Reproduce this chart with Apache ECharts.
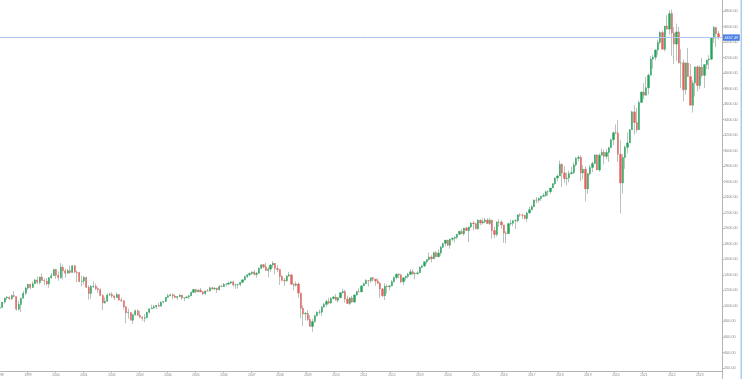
<!DOCTYPE html>
<html><head><meta charset="utf-8">
<script src="https://cdn.jsdelivr.net/npm/echarts/dist/echarts.min.js"></script>
<style>html,body{margin:0;padding:0;background:#fff;}#c{width:743px;height:379px;}</style>
</head><body><div id="c"></div>
<script>
// Monthly OHLC, Jan 1998 .. Sep 2023 (one row per year)
const opens = [
970.4,980.3,1049.3,1101.8,1111.8,1090.8,1133.8,1120.7,957.3,1017.0,1098.7,1163.6,
1229.2,1279.6,1238.3,1286.4,1335.2,1301.8,1372.7,1328.7,1320.4,1282.7,1362.9,1388.9,
1469.3,1394.5,1366.4,1498.6,1452.4,1420.6,1454.6,1430.8,1517.7,1436.5,1429.4,1315.0,
1320.3,1366.0,1239.9,1160.3,1249.5,1255.8,1224.4,1211.2,1133.6,1040.9,1059.8,1139.5,
1148.1,1130.2,1106.7,1147.4,1076.9,1067.1,989.8,911.6,916.1,815.3,885.8,936.3,
879.8,855.7,841.2,848.2,916.9,963.6,974.5,990.3,1008.0,996.0,1050.7,1058.2,
1111.9,1131.1,1144.9,1126.2,1107.3,1120.7,1140.8,1101.7,1104.2,1114.6,1130.2,1173.8,
1211.9,1181.3,1203.6,1180.6,1156.9,1191.5,1191.3,1234.2,1220.3,1228.8,1207.0,1249.5,
1248.3,1280.1,1280.7,1294.8,1310.6,1270.1,1270.2,1276.7,1303.8,1335.9,1377.9,1400.6,
1418.3,1438.2,1406.8,1420.9,1482.4,1530.6,1503.4,1455.3,1474.0,1526.8,1549.4,1481.1,
1468.4,1378.6,1330.6,1322.7,1385.6,1400.4,1280.0,1267.4,1282.8,1166.4,968.8,896.2,
903.3,825.9,735.1,797.9,872.8,919.1,919.3,987.5,1020.6,1057.1,1036.2,1095.6,
1115.1,1073.9,1104.5,1169.4,1186.7,1089.4,1030.7,1101.6,1049.3,1141.2,1183.3,1180.6,
1257.6,1286.1,1327.2,1325.8,1363.6,1345.2,1320.6,1292.3,1218.9,1131.4,1253.3,1247.0,
1257.6,1312.4,1365.7,1408.5,1397.9,1310.3,1362.2,1379.3,1406.6,1440.7,1412.2,1416.2,
1426.2,1498.1,1514.7,1569.2,1597.6,1630.7,1606.3,1685.7,1633.0,1681.6,1756.5,1805.8,
1848.4,1782.6,1859.5,1872.3,1884.0,1923.6,1960.2,1930.7,2003.4,1972.3,2018.1,2067.6,
2058.9,1995.0,2104.5,2067.9,2085.5,2107.4,2063.1,2103.8,1972.2,1920.0,2079.4,2080.4,
2043.9,1940.2,1932.2,2059.7,2065.3,2097.0,2098.9,2173.6,2171.0,2168.3,2126.2,2198.8,
2238.8,2278.9,2363.6,2362.7,2384.2,2411.8,2423.4,2470.3,2471.7,2519.4,2575.3,2647.6,
2673.6,2823.8,2713.8,2640.9,2648.1,2705.3,2718.4,2816.3,2901.5,2914.0,2711.7,2760.2,
2506.9,2704.1,2784.5,2834.4,2945.8,2752.1,2941.8,2980.4,2926.5,2976.7,3037.6,3141.0,
3230.8,3225.5,2954.2,2584.6,2912.4,3044.3,3100.3,3271.1,3500.3,3363.0,3270.0,3621.6,
3756.1,3714.2,3811.2,3972.9,4181.2,4204.1,4297.5,4395.3,4522.7,4307.5,4605.4,4567.0,
4766.2,4515.6,4373.9,4530.4,4131.9,4132.2,3785.4,4130.3,3955.0,3585.6,3872.0,4080.1,
3839.5,4076.6,3970.2,4109.3,4169.5,4179.8,4450.4,4589.0,4507.7
];
const highs = [
992.7,1050.0,1105.7,1130.5,1123.0,1145.2,1190.6,1121.0,1066.1,1106.7,1193.2,1244.9,
1280.0,1283.7,1316.6,1347.8,1375.9,1376.8,1420.3,1352.0,1361.7,1373.2,1424.7,1473.1,
1478.0,1444.6,1552.9,1527.2,1481.5,1474.6,1517.3,1525.2,1530.1,1454.8,1438.5,1389.1,
1383.4,1376.4,1263.5,1269.3,1315.9,1286.6,1239.8,1226.3,1155.4,1110.6,1163.4,1173.0,
1176.6,1130.2,1173.0,1147.8,1106.6,1070.0,994.5,965.0,924.0,900.9,954.3,954.3,
935.1,864.6,895.9,924.2,965.4,1015.3,1015.4,1011.0,1040.3,1053.8,1063.7,1112.6,
1155.4,1158.9,1163.2,1150.6,1127.7,1146.3,1140.8,1109.7,1131.5,1142.1,1188.5,1217.3,
1217.8,1212.4,1229.1,1191.9,1199.6,1219.6,1245.2,1245.9,1243.1,1233.3,1270.6,1275.8,
1294.9,1297.6,1310.9,1318.2,1326.7,1290.7,1280.4,1306.7,1340.3,1389.5,1407.9,1431.8,
1441.6,1461.6,1438.9,1498.0,1535.6,1540.6,1555.9,1503.9,1538.7,1576.1,1552.8,1523.6,
1471.8,1396.0,1359.7,1396.0,1440.2,1404.1,1292.2,1313.2,1303.0,1167.0,1007.5,918.9,
943.9,877.9,833.0,888.7,930.2,956.2,996.7,1039.5,1080.2,1101.4,1113.7,1130.4,
1150.5,1112.4,1180.2,1219.8,1205.1,1131.2,1115.0,1129.2,1148.9,1196.1,1227.1,1262.6,
1302.7,1344.1,1332.3,1364.6,1370.6,1345.2,1356.5,1307.4,1229.3,1292.7,1277.6,1269.4,
1333.5,1378.0,1419.2,1422.4,1415.3,1363.5,1392.0,1426.7,1474.5,1470.0,1434.3,1448.0,
1509.9,1530.9,1570.3,1597.6,1687.2,1654.2,1698.8,1709.7,1729.9,1775.2,1813.6,1849.4,
1850.8,1867.9,1883.0,1897.3,1924.0,1968.2,1991.4,2005.0,2019.3,2018.2,2075.8,2093.6,
2072.4,2119.6,2114.8,2125.9,2134.7,2129.9,2132.8,2112.7,2020.9,2094.3,2116.5,2104.3,
2043.9,1962.7,2072.2,2111.1,2103.5,2120.6,2177.1,2193.8,2187.9,2169.6,2214.1,2277.5,
2300.9,2371.5,2401.0,2398.2,2418.7,2453.8,2484.0,2490.9,2519.4,2582.0,2657.7,2695.0,
2872.9,2836.0,2801.9,2717.5,2742.2,2791.5,2848.0,2916.5,2940.9,2939.9,2815.2,2800.2,
2709.0,2813.5,2860.3,2949.5,2954.1,2964.2,3028.0,3013.6,3022.0,3050.1,3154.3,3247.9,
3337.8,3393.5,3136.7,2954.9,3068.7,3233.1,3280.0,3514.8,3588.1,3549.9,3646.0,3760.2,
3870.9,3950.4,3994.4,4218.8,4238.0,4302.4,4430.0,4537.4,4545.9,4608.1,4743.8,4808.9,
4818.6,4595.3,4637.3,4593.5,4307.7,4177.5,4140.2,4325.3,4119.3,3905.4,4080.1,4101.0,
4094.2,4195.4,4110.8,4170.1,4231.1,4458.5,4607.1,4593.0,4541.3
];
const lows = [
912.8,980.3,1032.1,1076.7,1074.4,1074.6,1114.3,939.9,939.9,923.3,1098.7,1136.9,
1205.5,1211.9,1234.7,1282.7,1281.4,1277.2,1328.5,1268.4,1263.0,1233.7,1348.4,1387.4,
1350.1,1325.1,1346.6,1339.4,1361.1,1420.6,1413.9,1429.4,1419.4,1305.8,1305.8,1254.1,
1274.6,1228.3,1081.2,1091.9,1232.0,1203.0,1165.5,1124.9,944.8,1026.8,1054.3,1124.7,
1101.2,1074.4,1106.7,1063.5,1048.9,952.9,775.7,833.4,815.3,768.6,872.0,872.0,
840.3,806.3,788.9,847.9,902.8,963.6,962.1,960.8,990.4,996.0,1031.2,1053.4,
1105.1,1124.4,1087.2,1107.2,1076.3,1113.3,1078.8,1060.7,1101.3,1090.2,1127.6,1173.8,
1163.8,1180.1,1176.9,1137.5,1146.2,1188.3,1191.3,1201.1,1205.4,1168.2,1201.1,1246.6,
1245.7,1253.6,1268.4,1280.7,1245.3,1219.3,1224.5,1253.9,1290.9,1327.1,1360.4,1385.9,
1403.6,1389.4,1363.9,1416.4,1476.7,1484.2,1454.3,1370.6,1439.3,1489.6,1406.1,1435.7,
1270.1,1316.8,1256.9,1313.0,1373.7,1272.0,1200.4,1247.5,1106.4,839.8,741.0,815.7,
804.2,734.5,666.8,783.3,866.1,888.9,869.3,978.5,991.0,1020.2,1029.4,1085.9,
1071.6,1044.5,1104.5,1160.0,1040.8,1028.3,1010.9,1039.7,1041.1,1131.9,1173.0,1178.0,
1257.6,1282.9,1249.1,1294.7,1311.8,1258.1,1282.9,1101.5,1114.2,1074.8,1158.7,1202.4,
1257.6,1300.5,1340.0,1357.4,1291.0,1266.7,1325.4,1354.7,1396.6,1403.3,1343.4,1398.1,
1426.2,1485.0,1501.5,1536.0,1581.3,1560.3,1604.6,1627.5,1633.0,1646.5,1746.2,1767.9,
1770.5,1737.9,1834.4,1814.4,1859.8,1915.6,1930.7,1904.8,1964.0,1820.7,2001.0,1972.6,
1988.1,1980.9,2039.7,2048.4,2067.9,2056.3,2044.0,1867.0,1871.9,1893.7,2019.4,1993.3,
1812.3,1810.1,1931.0,2033.8,2025.9,1991.7,2074.0,2147.6,2119.1,2114.7,2083.8,2187.4,
2233.6,2271.7,2322.3,2328.9,2352.7,2405.7,2407.7,2417.4,2446.6,2519.4,2557.5,2605.5,
2673.6,2532.7,2585.9,2553.8,2594.6,2692.0,2699.0,2796.3,2864.1,2603.5,2631.1,2346.6,
2444.0,2681.8,2722.3,2834.4,2750.5,2728.8,2940.0,2822.1,2891.9,2855.9,3037.6,3070.3,
3214.6,2855.8,2191.9,2447.5,2766.6,2965.7,3100.3,3271.1,3209.5,3233.9,3270.0,3621.6,
3662.7,3714.2,3723.3,3972.9,4056.9,4164.4,4233.1,4367.7,4305.9,4278.9,4560.0,4495.1,
4222.6,4114.7,4157.9,4124.3,3810.3,3636.9,3721.6,3954.5,3584.1,3491.6,3698.2,3764.5,
3794.3,3943.1,3808.9,4049.5,4048.3,4166.2,4385.1,4335.3,4431.9
];
const closes = [
980.3,1049.3,1101.8,1111.8,1090.8,1133.8,1120.7,957.3,1017.0,1098.7,1163.6,1229.2,
1279.6,1238.3,1286.4,1335.2,1301.8,1372.7,1328.7,1320.4,1282.7,1362.9,1388.9,1469.3,
1394.5,1366.4,1498.6,1452.4,1420.6,1454.6,1430.8,1517.7,1436.5,1429.4,1315.0,1320.3,
1366.0,1239.9,1160.3,1249.5,1255.8,1224.4,1211.2,1133.6,1040.9,1059.8,1139.5,1148.1,
1130.2,1106.7,1147.4,1076.9,1067.1,989.8,911.6,916.1,815.3,885.8,936.3,879.8,
855.7,841.2,848.2,916.9,963.6,974.5,990.3,1008.0,996.0,1050.7,1058.2,1111.9,
1131.1,1144.9,1126.2,1107.3,1120.7,1140.8,1101.7,1104.2,1114.6,1130.2,1173.8,1211.9,
1181.3,1203.6,1180.6,1156.9,1191.5,1191.3,1234.2,1220.3,1228.8,1207.0,1249.5,1248.3,
1280.1,1280.7,1294.8,1310.6,1270.1,1270.2,1276.7,1303.8,1335.9,1377.9,1400.6,1418.3,
1438.2,1406.8,1420.9,1482.4,1530.6,1503.4,1455.3,1474.0,1526.8,1549.4,1481.1,1468.4,
1378.6,1330.6,1322.7,1385.6,1400.4,1280.0,1267.4,1282.8,1166.4,968.8,896.2,903.3,
825.9,735.1,797.9,872.8,919.1,919.3,987.5,1020.6,1057.1,1036.2,1095.6,1115.1,
1073.9,1104.5,1169.4,1186.7,1089.4,1030.7,1101.6,1049.3,1141.2,1183.3,1180.6,1257.6,
1286.1,1327.2,1325.8,1363.6,1345.2,1320.6,1292.3,1218.9,1131.4,1253.3,1247.0,1257.6,
1312.4,1365.7,1408.5,1397.9,1310.3,1362.2,1379.3,1406.6,1440.7,1412.2,1416.2,1426.2,
1498.1,1514.7,1569.2,1597.6,1630.7,1606.3,1685.7,1633.0,1681.6,1756.5,1805.8,1848.4,
1782.6,1859.5,1872.3,1884.0,1923.6,1960.2,1930.7,2003.4,1972.3,2018.1,2067.6,2058.9,
1995.0,2104.5,2067.9,2085.5,2107.4,2063.1,2103.8,1972.2,1920.0,2079.4,2080.4,2043.9,
1940.2,1932.2,2059.7,2065.3,2097.0,2098.9,2173.6,2171.0,2168.3,2126.2,2198.8,2238.8,
2278.9,2363.6,2362.7,2384.2,2411.8,2423.4,2470.3,2471.7,2519.4,2575.3,2647.6,2673.6,
2823.8,2713.8,2640.9,2648.1,2705.3,2718.4,2816.3,2901.5,2914.0,2711.7,2760.2,2506.9,
2704.1,2784.5,2834.4,2945.8,2752.1,2941.8,2980.4,2926.5,2976.7,3037.6,3141.0,3230.8,
3225.5,2954.2,2584.6,2912.4,3044.3,3100.3,3271.1,3500.3,3363.0,3270.0,3621.6,3756.1,
3714.2,3811.2,3972.9,4181.2,4204.1,4297.5,4395.3,4522.7,4307.5,4605.4,4567.0,4766.2,
4515.6,4373.9,4530.4,4131.9,4132.2,3785.4,4130.3,3955.0,3585.6,3872.0,4080.1,3839.5,
4076.6,3970.2,4109.3,4169.5,4179.8,4450.4,4589.0,4507.7,4457.49
];
const firstYear = 1998, lastYear = 2023, lastMonth = 10; // one empty slot after the last candle
const lastPrice = 4457.49;
const yMin = 0, yMax = 5000, yStep = 200;

const categories = [];
for (let y = firstYear; y <= lastYear; y++) {
  for (let m = 1; m <= 12; m++) {
    if (y === lastYear && m > lastMonth) break;
    categories.push(y + '-' + (m < 10 ? '0' + m : m));
  }
}
const full = opens.map((o, i) => [o, closes[i], lows[i], highs[i]]);
const bodies = opens.map((o, i) => [o, closes[i], Math.min(o, closes[i]), Math.max(o, closes[i])]);

const UP = '#22a35a', DOWN = '#e3605b', WICK = '#b7c3bb', AX = '#b4b4b4', TXT = '#8a8a8a';
const isJan = (i, v) => v.slice(5) === '01';

const chart = echarts.init(document.getElementById('c'));
chart.setOption({
  animation: false,
  backgroundColor: '#fff',
  grid: { left: -1.2, right: 21, top: -4.52, bottom: -4.52, containLabel: false, outerBoundsMode: 'none' },
  xAxis: {
    type: 'category', data: categories, boundaryGap: true, offset: -12.5,
    axisLine: { lineStyle: { color: AX, width: 1 } },
    axisTick: { show: true, interval: isJan, length: 2, lineStyle: { color: AX } },
    axisLabel: { interval: isJan, formatter: v => v.slice(0, 4), fontSize: 3.3, color: TXT, margin: 2.5 },
    splitLine: { show: false }
  },
  yAxis: {
    type: 'value', position: 'right', min: yMin, max: yMax, interval: yStep, scale: false,
    axisLine: { show: true, lineStyle: { color: AX, width: 1 } },
    axisTick: { show: true, length: 2, lineStyle: { color: AX } },
    axisLabel: { fontSize: 3.8, color: TXT, margin: 2, formatter: v => v.toFixed(2), showMaxLabel: false, showMinLabel: false },
    splitLine: { show: false }
  },
  series: [
    {
      type: 'candlestick', data: full, barWidth: 0.5, z: 1,
      itemStyle: { color: WICK, color0: WICK, borderColor: WICK, borderColor0: WICK, borderWidth: 1 },
      markLine: {
        silent: true, symbol: 'none', animation: false,
        lineStyle: { color: '#aec6ee', width: 1, type: 'solid' },
        label: { show: true, position: 'end', distance: 1, formatter: () => lastPrice.toFixed(2),
                 backgroundColor: '#4b7fe3', color: '#fff', fontSize: 3.8, padding: [1.2, 1.5] },
        data: [{ yAxis: lastPrice }]
      }
    },
    {
      type: 'candlestick', data: bodies, barWidth: 1.7, z: 2,
      itemStyle: { color: UP, color0: DOWN, borderColor: UP, borderColor0: DOWN, borderWidth: 0.4 }
    }
  ],
  graphic: [
    { type: 'rect', left: 740.5, top: 0, shape: { width: 1.5, height: 379 }, style: { fill: '#a9cbee' }, silent: true }
  ]
});
</script>
</body></html>
